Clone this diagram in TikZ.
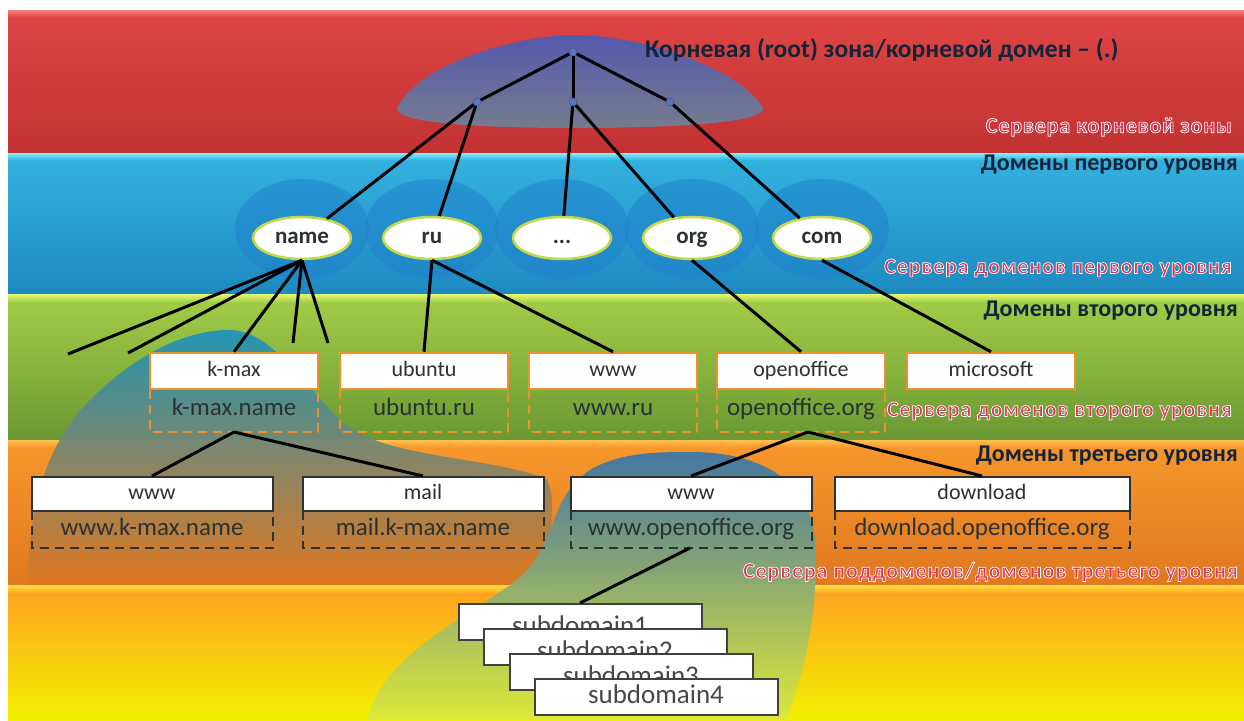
\documentclass[tikz,border=0pt]{standalone}
\usepackage{fontspec}
\setmainfont{Carlito}
\newfontfamily\pinkfont[LetterSpace=4]{Carlito}
\usetikzlibrary{shapes.geometric}
\definecolor{redA}{HTML}{DE4644}
\definecolor{redB}{HTML}{C23232}
\definecolor{redH}{HTML}{F48080}
\definecolor{bluA}{HTML}{34B2E0}
\definecolor{bluB}{HTML}{1E8AC0}
\definecolor{bluH}{HTML}{80F0FF}
\definecolor{grnA}{HTML}{A4CE48}
\definecolor{grnB}{HTML}{6A9832}
\definecolor{grnH}{HTML}{E6F870}
\definecolor{orgA}{HTML}{F8982C}
\definecolor{orgB}{HTML}{E07820}
\definecolor{orgH}{HTML}{FFC050}
\definecolor{yelA}{HTML}{FFA020}
\definecolor{yelB}{HTML}{F2F000}
\definecolor{yelH}{HTML}{FFE040}
\definecolor{hdrc}{HTML}{14243A}
\definecolor{pinkc}{HTML}{D8385C}
\definecolor{tldb}{HTML}{C4D848}
\definecolor{orgbord}{HTML}{F0902C}
\definecolor{txtg}{HTML}{2A3234}
\definecolor{dotb}{HTML}{5A74C0}
\definecolor{glowc}{HTML}{2080CC}
\definecolor{lbT}{HTML}{1E94BA}
\definecolor{lbM}{HTML}{48A2AC}
\definecolor{rbT}{HTML}{3C76A8}
\definecolor{rbM}{HTML}{6CC4A0}
\definecolor{rbB}{HTML}{DCE83C}
\definecolor{domT}{HTML}{4A5CB6}
\definecolor{domB}{HTML}{6E8296}
\newcommand\pinklabel[1]{\textcolor{pinkc}{\special{pdf:literal direct 2 Tr 0.7 w 1 1 1 RG}#1\special{pdf:literal direct 0 Tr}}}
\begin{document}
\begin{tikzpicture}[x=1pt,y=-1pt,
  conn/.style={black, line width=3pt},
  tld/.style={ellipse, fill=white, draw=tldb, line width=2.5pt, minimum width=98pt, minimum height=42pt, inner sep=0pt, font=\bfseries\fontsize{23}{25}\selectfont, text=txtg, text height=15pt, text depth=4pt},
  sld/.style={rectangle, fill=white, draw=orgbord, line width=2.5pt, minimum width=168pt, minimum height=36pt, inner sep=0pt, font=\fontsize{22}{24}\selectfont, text=txtg, text height=15pt, text depth=5pt},
  thl/.style={rectangle, fill=white, draw=txtg, line width=2pt, minimum width=241pt, minimum height=34pt, inner sep=0pt, font=\fontsize{22}{24}\selectfont, text=txtg, text height=15pt, text depth=5pt},
  subbox/.style={rectangle, fill=white, draw=black!75, line width=2pt, minimum width=243pt, minimum height=36pt, inner sep=0pt, font=\fontsize{27}{29}\selectfont, text=black!72, text height=19pt, text depth=6pt},
  dsho/.style={draw=orgbord, line width=2pt, dash pattern=on 9pt off 6pt},
  dshk/.style={draw=txtg, line width=2pt, dash pattern=on 9pt off 6pt},
  dtxt/.style={font=\fontsize{25}{27}\selectfont, text=txtg, inner sep=0pt, text height=17pt, text depth=5pt},
  hdr/.style={font=\bfseries\fontsize{24}{26}\selectfont, text=hdrc, inner sep=0pt},
  pnk/.style={font=\pinkfont\bfseries\fontsize{22}{24}\selectfont, inner sep=0pt},
  rdot/.style={circle, fill=dotb, draw=dotb!70!black, line width=0.5pt, inner sep=0pt, minimum size=8pt}
]
\useasboundingbox (0,0) rectangle (1244,720);
\fill[white] (0,0) rectangle (1244,720);
% bands
\shade[top color=redA, bottom color=redB] (8,10) rectangle (1244,153);
\shade[top color=redH, bottom color=redA] (8,10) rectangle (1244,17);
\shade[top color=bluA, bottom color=bluB] (8,153) rectangle (1244,294);
\shade[top color=bluH, bottom color=bluA] (8,153) rectangle (1244,160);
\shade[top color=grnA, bottom color=grnB] (8,294) rectangle (1244,440);
\shade[top color=grnH, bottom color=grnA] (8,294) rectangle (1244,302);
\shade[top color=orgA, bottom color=orgB] (8,440) rectangle (1244,585);
\shade[top color=orgH, bottom color=orgA] (8,440) rectangle (1244,447);
\shade[top color=yelA, bottom color=yelB] (8,585) rectangle (1244,720);
\shade[top color=yelH, bottom color=yelA] (8,585) rectangle (1244,594);
% blobs
\shade[top color=lbT, middle color=lbM, bottom color=orgB, opacity=0.95]
  (28,585) .. controls (28,520) and (40,450) .. (90,400)
  .. controls (140,350) and (190,330) .. (229,330)
  .. controls (270,330) and (300,380) .. (340,420)
  .. controls (380,458) and (480,455) .. (545,478)
  .. controls (560,495) and (545,540) .. (552,585) -- cycle;
\shade[top color=rbT, middle color=rbM, bottom color=rbB, opacity=0.95]
  (367,720) .. controls (380,660) and (460,620) .. (510,585)
  .. controls (560,550) and (545,500) .. (590,470)
  .. controls (620,452) and (660,452) .. (690,452)
  .. controls (760,452) and (810,480) .. (815,540)
  .. controls (820,620) and (800,680) .. (787,720) -- cycle;
% root dome
\shade[top color=domT, bottom color=domB, opacity=0.92]
  (397,108) .. controls (420,62) and (520,35) .. (575,35)
  .. controls (640,35) and (740,68) .. (763,108)
  .. controls (766,124) and (660,128) .. (575,128)
  .. controls (490,128) and (394,124) .. (397,108) -- cycle;
% glows
\foreach \cx in {302,432,562,692,822}
  \fill[glowc, opacity=0.5] (\cx,229) ellipse [x radius=67, y radius=50];
% root nodes
\node[rdot] (root) at (573,52) {};
\node[rdot] (l1) at (477,102) {};
\node[rdot] (c1) at (573,102) {};
\node[rdot] (r1) at (670,102) {};
% tld nodes
\node[tld] (name) at (302,238) {name};
\node[tld] (ru) at (432,238) {ru};
\node[tld] (dots) at (562,238) {...};
\node[tld] (org) at (692,238) {org};
\node[tld] (com) at (822,238) {com};
% second level
\node[sld] (kmax) at (234,371) {k-max};
\node[sld] (ubuntu) at (424,371) {ubuntu};
\node[sld] (www) at (613,371) {www};
\node[sld] (oo) at (801,371) {openoffice};
\node[sld] (ms) at (991,371) {microsoft};
\foreach \cx/\t in {234/k-max.name,424/ubuntu.ru,613/www.ru,801/openoffice.org}{
  \draw[dsho] (\cx-84,390) -- (\cx-84,432) -- (\cx+84,432) -- (\cx+84,390);
  \node[dtxt] at (\cx,409) {\t};
}
% third level
\node[thl] (w3a) at (152,494) {www};
\node[thl] (mail) at (423,494) {mail};
\node[thl] (w3b) at (691,494) {www};
\node[thl, minimum width=295pt] (dl) at (982,494) {download};
\foreach \cx/\hw/\t in {152/120.5/www.k-max.name,423/120.5/mail.k-max.name,691/120.5/www.openoffice.org,982/147.5/download.openoffice.org}{
  \draw[dshk] (\cx-\hw,511) -- (\cx-\hw,548) -- (\cx+\hw,548) -- (\cx+\hw,511);
  \node[dtxt] at (\cx,529) {\t};
}
% connectors
\coordinate (n1) at (68,354);
\coordinate (n2) at (128,353);
\coordinate (n4) at (293,343);
\coordinate (n5) at (328,343);
\coordinate (h1) at (234,432);
\coordinate (h2) at (808,432);
\coordinate (h3) at (690,548);
\draw[conn] (root) -- (l1);
\draw[conn] (root) -- (c1);
\draw[conn] (root) -- (r1);
\draw[conn] (l1) -- (name);
\draw[conn] (l1) -- (ru);
\draw[conn] (c1) -- (dots);
\draw[conn] (c1) -- (org);
\draw[conn] (r1) -- (com);
\draw[conn] (name.south) -- (n1);
\draw[conn] (name.south) -- (n2);
\draw[conn] (name.south) -- (kmax.north);
\draw[conn] (name.south) -- (n4);
\draw[conn] (name.south) -- (n5);
\draw[conn] (ru.south) -- (ubuntu.north);
\draw[conn] (ru.south) -- (www.north);
\draw[conn] (org.south) -- (oo.north);
\draw[conn] (com.south) -- (ms.north);
\draw[conn] (h1) -- (w3a.north);
\draw[conn] (h1) -- (mail.north);
\draw[conn] (h2) -- (w3b.north);
\draw[conn] (h2) -- (dl.north);
% subdomains
\node[subbox] (s1) at (580,622) {\raisebox{-6pt}{subdomain1}};
\draw[conn] (h3) -- (s1.north);
\node[subbox] (s2) at (605,647) {\raisebox{-6pt}{subdomain2}};
\node[subbox] (s3) at (631,672) {\raisebox{-6pt}{subdomain3}};
\node[subbox] (s4) at (656,697) {subdomain4};
% labels
\node[hdr, anchor=west, font=\bfseries\fontsize{25.5}{28}\selectfont] (lroot) at (645,50) {Корневая (root) зона/корневой домен – (.)};
\node[hdr, anchor=east] (lh1) at (1238,165) {Домены первого уровня};
\node[hdr, anchor=east] (lh2) at (1238,311) {Домены второго уровня};
\node[hdr, anchor=east] (lh3) at (1238,456) {Домены третьего уровня};
\node[pnk, anchor=east] (ps0) at (1232,127) {\pinklabel{Сервера корневой зоны}};
\node[pnk, anchor=east] (ps1) at (1232,268) {\pinklabel{Сервера доменов первого уровня}};
\node[pnk, anchor=east] (ps2) at (1232,411) {\pinklabel{Сервера доменов второго уровня}};
\node[pnk, anchor=east] (ps3) at (1238,572) {\pinklabel{Сервера поддоменов/доменов третьего уровня}};
\end{tikzpicture}
\end{document}
